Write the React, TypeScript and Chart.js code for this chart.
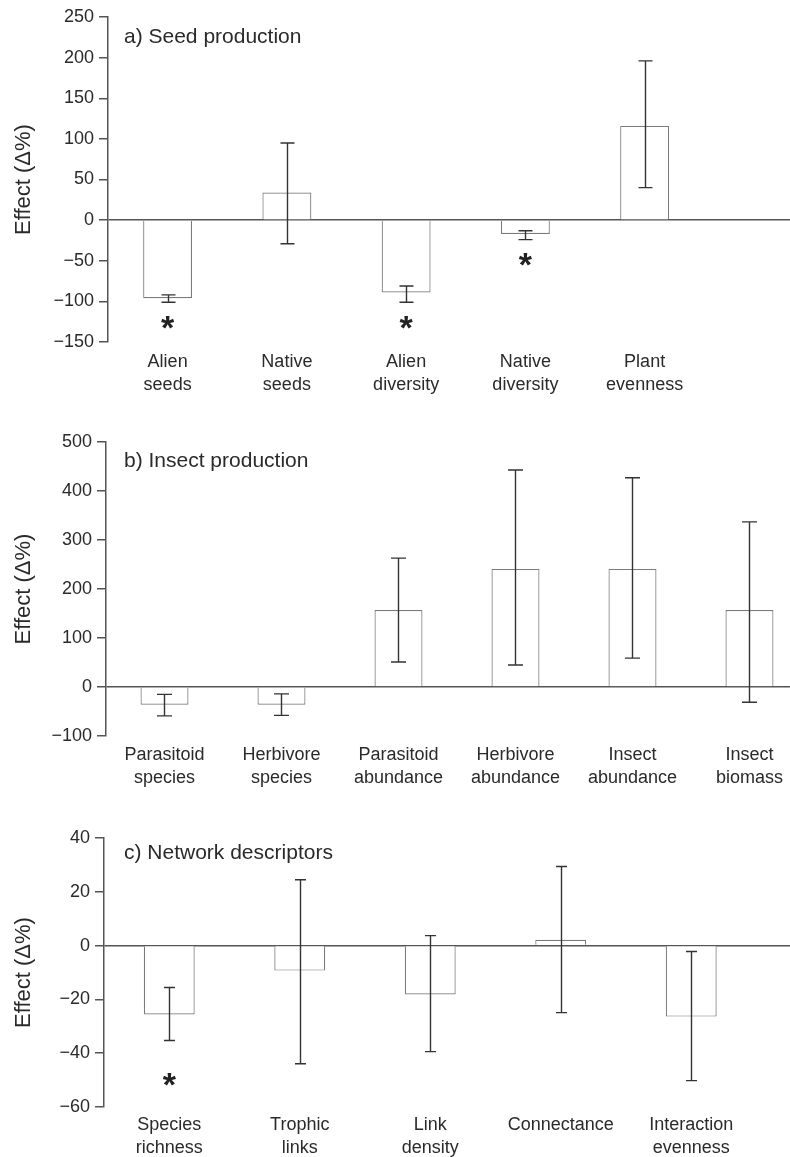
import React, { useEffect, useRef } from "react";
import { Chart, registerables } from "chart.js";

Chart.register(...registerables);

// ---------- Panel a: Seed production ----------
const catsA = [["Alien", "seeds"], ["Native", "seeds"], ["Alien", "diversity"], ["Native", "diversity"], ["Plant", "evenness"]];
const meanA = [-96, 34, -89, -17, 116];
const lowA = [-101, -29, -101, -24, 40];
const highA = [-92, 95, -81, -13, 196];
const starA = [-123, null, -123, -45, null];
const ticksA = { min: -150, max: 250, step: 50 };

// ---------- Panel b: Insect production ----------
const catsB = [["Parasitoid", "species"], ["Herbivore", "species"], ["Parasitoid", "abundance"], ["Herbivore", "abundance"], ["Insect", "abundance"], ["Insect", "biomass"]];
const meanB = [-36, -36, 157, 241, 241, 157];
const lowB = [-59, -58, 51, 45, 59, -31];
const highB = [-15, -14, 263, 443, 427, 337];
const starB = [null, null, null, null, null, null];
const ticksB = { min: -100, max: 500, step: 100 };

// ---------- Panel c: Network descriptors ----------
const catsC = [["Species", "richness"], ["Trophic", "links"], ["Link", "density"], ["Connectance"], ["Interaction", "evenness"]];
const meanC = [-25.6, -9.3, -18.2, 2.2, -26.4];
const lowC = [-35.3, -43.9, -39.4, -24.9, -50.2];
const highC = [-15.6, 24.5, 3.7, 29.4, -2.2];
const starC = [-48.7, null, null, null, null];
const ticksC = { min: -60, max: 40, step: 20 };

const FONT = "'Liberation Sans', Arial, Helvetica, sans-serif";
const TEXT = "#2a2a2a";
const LINE = "#555";

const fmt = (v: number) => (v < 0 ? "\u2212" + Math.abs(v) : String(v));

const overlayPlugin = {
  id: "overlay",
  afterDatasetsDraw(chart: any) {
    const cfg = chart.options.plugins.overlay;
    const { ctx, scales } = chart;
    const x = scales.x, y = scales.y;
    ctx.save();
    // error bars
    ctx.strokeStyle = "#333";
    ctx.lineWidth = 1.4;
    cfg.low.forEach((lo: number, i: number) => {
      const px = Math.round(x.getPixelForValue(i)) + 0.5;
      const yl = y.getPixelForValue(lo);
      const yh = y.getPixelForValue(cfg.high[i]);
      const c = cfg.cap / 2;
      ctx.beginPath();
      ctx.moveTo(px, yl); ctx.lineTo(px, yh);
      ctx.moveTo(px - c, yl); ctx.lineTo(px + c, yl);
      ctx.moveTo(px - c, yh); ctx.lineTo(px + c, yh);
      ctx.stroke();
    });
    // significance stars
    ctx.fillStyle = "#222";
    ctx.font = `bold 34px ${FONT}`;
    ctx.textAlign = "center";
    ctx.textBaseline = "alphabetic";
    cfg.stars.forEach((s: number | null, i: number) => {
      if (s === null) return;
      ctx.fillText("*", x.getPixelForValue(i), y.getPixelForValue(s) + 19);
    });
    // panel title
    ctx.fillStyle = TEXT;
    ctx.font = `21px ${FONT}`;
    ctx.textAlign = "left";
    ctx.textBaseline = "middle";
    ctx.fillText(cfg.title, 124, chart.chartArea.top + cfg.titleDy);
    ctx.restore();
  },
};

function makeChart(canvas: HTMLCanvasElement, p: any) {
  return new Chart(canvas, {
    type: "bar",
    data: {
      datasets: [
        {
          data: p.mean.map((v: number, i: number) => ({ x: i, y: v })),
          backgroundColor: "#ffffff",
          borderColor: "#7a7a7a",
          borderWidth: 1.2,
          categoryPercentage: 1,
          barPercentage: p.barPct,
        },
      ],
    },
    plugins: [overlayPlugin],
    options: {
      animation: false,
      responsive: false,
      events: [],
      layout: { padding: { top: p.top, left: 0, right: 0, bottom: 0 } },
      plugins: {
        legend: { display: false },
        tooltip: { enabled: false },
        overlay: {
          low: p.low,
          high: p.high,
          stars: p.stars,
          cap: p.cap,
          title: p.title,
          titleDy: p.titleDy,
        },
      } as any,
      scales: {
        x: {
          type: "linear",
          offset: false,
          min: -0.5,
          max: p.xmax,
          afterBuildTicks: (scale: any) => {
            scale.ticks = p.cats.map((_: any, i: number) => ({ value: i }));
          },
          afterFit: (scale: any) => {
            scale.height = p.xh;
          },
          grid: { display: false, drawTicks: false },
          border: { display: false },
          ticks: {
            autoSkip: false,
            maxRotation: 0,
            minRotation: 0,
            padding: p.xpad,
            color: TEXT,
            font: { family: FONT, size: 18, lineHeight: 1.3 },
            callback: (v: any) => p.cats[v],
          },
        },
        y: {
          type: "linear",
          min: p.ticks.min,
          max: p.ticks.max,
          afterFit: (scale: any) => {
            scale.width = p.axisX;
          },
          ticks: {
            stepSize: p.ticks.step,
            padding: 5,
            color: TEXT,
            font: { family: FONT, size: 18 },
            callback: (v: any) => fmt(v),
          },
          grid: {
            drawTicks: true,
            tickLength: 9,
            tickColor: LINE,
            lineWidth: 1.5,
            color: (c: any) => (c.tick && c.tick.value === 0 ? LINE : "rgba(0,0,0,0)"),
          },
          border: { display: true, color: LINE, width: 1.5 },
          title: {
            display: true,
            text: "Effect (\u0394%)",
            color: TEXT,
            font: { family: FONT, size: 22 },
            padding: { top: 11, bottom: 0 },
          },
        },
      },
    } as any,
  });
}

const panels = [
  {
    key: "a", canvasTop: 0, height: 400, top: 17, xh: 400 - 342,
    axisX: 108, xmax: 5.219, barPct: 0.41, xpad: 8, cap: 14, titleDy: 20,
    cats: catsA, mean: meanA, low: lowA, high: highA, stars: starA, ticks: ticksA,
    title: "a) Seed production",
  },
  {
    key: "b", canvasTop: 400, height: 390, top: 42, xh: 790 - 736,
    axisX: 106, xmax: 5.346, barPct: 0.41, xpad: 7, cap: 15, titleDy: 19,
    cats: catsB, mean: meanB, low: lowB, high: highB, stars: starB, ticks: ticksB,
    title: "b) Insect production",
  },
  {
    key: "c", canvasTop: 790, height: 367, top: 48, xh: 1157 - 1107,
    axisX: 104, xmax: 4.757, barPct: 0.39, xpad: 6, cap: 11, titleDy: 15,
    cats: catsC, mean: meanC, low: lowC, high: highC, stars: starC, ticks: ticksC,
    title: "c) Network descriptors",
  },
];

function Panel({ p }: { p: any }) {
  const ref = useRef<HTMLCanvasElement | null>(null);
  useEffect(() => {
    if (!ref.current) return;
    const chart = makeChart(ref.current, p);
    return () => chart.destroy();
  }, [p]);
  return (
    <canvas
      ref={ref}
      width={790}
      height={p.height}
      style={{ position: "absolute", left: 0, top: p.canvasTop, width: 790, height: p.height, display: "block" }}
    />
  );
}

export default function App() {
  return (
    <div style={{ position: "absolute", left: 0, top: 0, width: 790, height: 1157, background: "#ffffff", overflow: "hidden" }}>
      {panels.map((p) => (
        <Panel key={p.key} p={p} />
      ))}
    </div>
  );
}
